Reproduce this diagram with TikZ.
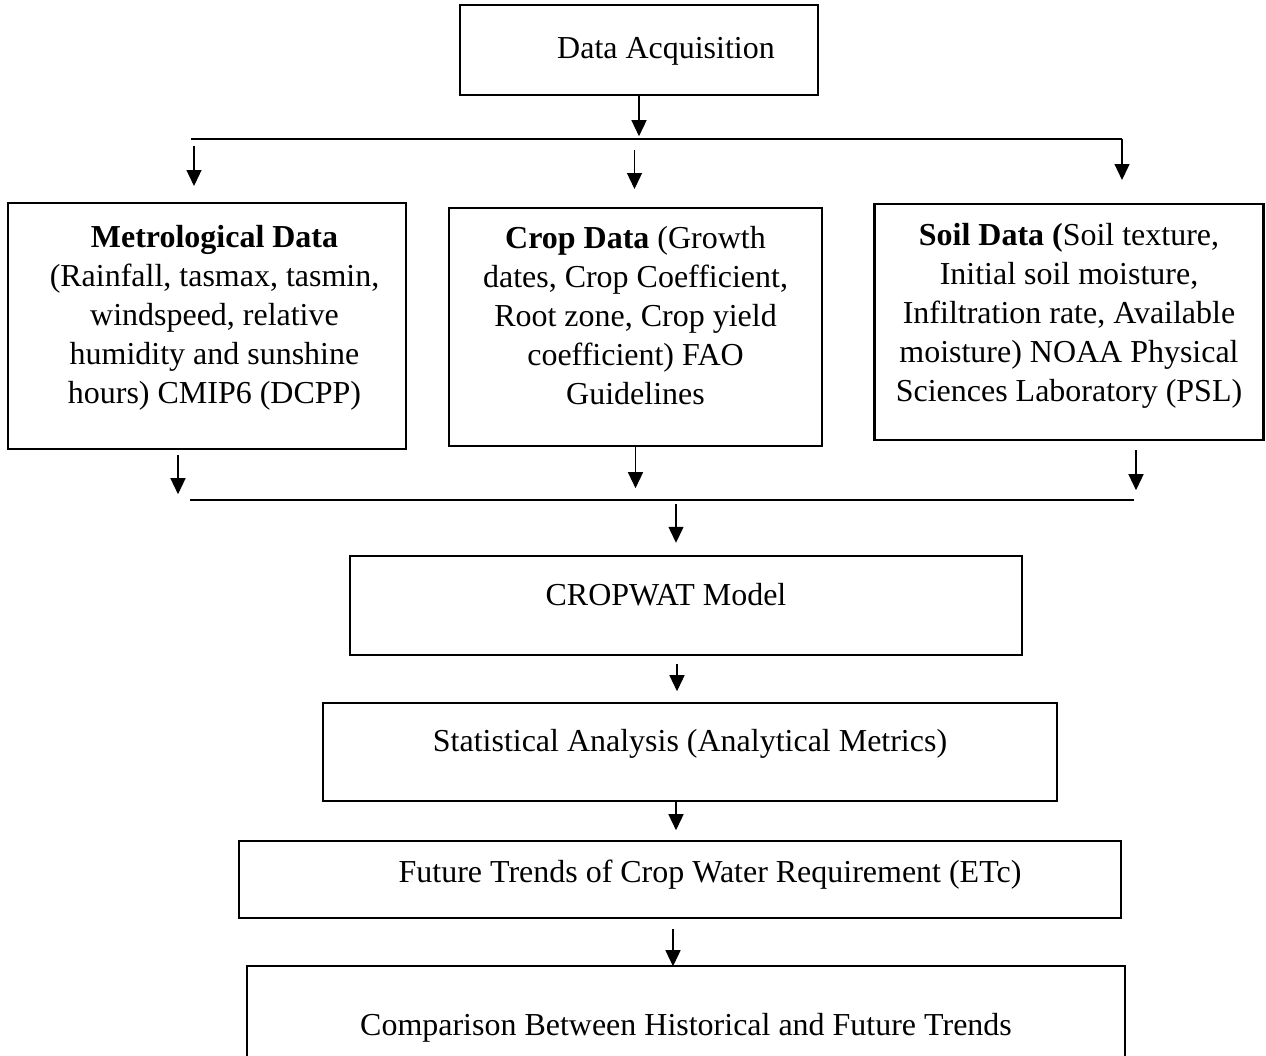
\documentclass[tikz,border=0pt]{standalone}
\usepackage{fontspec}
\setmainfont{Liberation Serif}
\usepackage{tikz}
\usetikzlibrary{arrows.meta, calc}
\tikzset{
  flowbox/.style={
    draw, rectangle, inner sep=0pt, line width=1.4pt,
    align=flush center, text height=0.46cm, text depth=0.48cm
  },
  databox/.style={
    flowbox, text depth=3.62cm
  },
  busline/.style={
    line width=0.75pt
  },
  arrow/.style={
    -{Triangle[length=0.32cm, width=0.3cm]}, line width=0.75pt
  },
}

\begin{document}
\begin{tikzpicture}[x=0.02cm, y=-0.02cm, font=\fontsize{18.2}{22.2}\selectfont]
  \useasboundingbox (0,0) rectangle (1266,1055);

  %%% Top box %%%
  \node[flowbox, minimum width=7.16cm, minimum height=1.8cm, text depth=0.14cm]
    (acq) at (639,50) {\hspace*{1.08cm}Data Acquisition};

  %%% Upper bus %%%
  \coordinate (busAw) at (191,139);
  \coordinate (busAe) at (1122,139);
  \draw[arrow] (acq.south) -- ++(0,40);
  \draw[busline] (busAw) -- (busAe);

  %%% Data boxes %%%
  \node[databox, text width=7.96cm, minimum width=7.96cm, minimum height=4.92cm]
    (met) at (207,326) {%
    \hspace*{0.3cm}\textbf{Metrological Data}\\
    \hspace*{0.3cm}(Rainfall, tasmax, tasmin,\\
    \hspace*{0.3cm}windspeed, relative\\
    \hspace*{0.3cm}humidity and sunshine\\
    \hspace*{0.3cm}hours) CMIP6 (DCPP)};

  \node[databox, text width=7.46cm, minimum width=7.46cm, minimum height=4.76cm]
    (crop) at (635.5,327) {%
    \textbf{Crop Data} (Growth\\
    dates, Crop Coefficient,\\
    Root zone, Crop yield\\
    coefficient) FAO\\
    Guidelines};

  \node[databox, text width=7.78cm, minimum width=7.78cm, minimum height=4.72cm,
        text depth=3.54cm]
    (soil) at (1069,322) {%
    \textbf{Soil Data (}Soil texture,\\
    Initial soil moisture,\\
    Infiltration rate, Available\\
    moisture) NOAA Physical\\
    Sciences Laboratory (PSL)};

  %%% Arrows: bus -> data boxes %%%
  \draw[arrow] ($(busAw)+(3,7)$) -- ++(0,40);
  \draw[arrow] ($(crop.north |- busAw)+(-1,11)$) -- ++(0,39);
  \draw[arrow] (busAe) -- ++(0,41);

  %%% Arrows: data boxes -> lower bus %%%
  \coordinate (busBw) at (190,500);
  \coordinate (busBe) at (1134,500);
  \draw[arrow] ($(met.south)+(-29,5)$) -- ++(0,39);
  \draw[arrow] (crop.south) -- ++(0,41);
  \draw[arrow] ($(soil.south)+(67,9)$) -- ++(0,40);
  \draw[busline] (busBw) -- (busBe);

  %%% Processing chain %%%
  \node[flowbox, minimum width=13.44cm, minimum height=1.98cm]
    (cropwat) at (686,605.5) {CROPWAT Model\hspace*{0.8cm}};

  \node[flowbox, minimum width=14.68cm, minimum height=1.96cm]
    (stat) at (690,752) {Statistical Analysis (Analytical Metrics)};

  \node[flowbox, minimum width=17.64cm, minimum height=1.54cm, text depth=0.36cm]
    (future) at (680,879.5)
    {\hspace*{1.2cm}Future Trends of Crop Water Requirement (ETc)};

  \node[flowbox, minimum width=17.56cm, minimum height=2.78cm]
    (comp) at (686,1035.5) {Comparison Between Historical and Future Trends};

  %%% Arrows along the chain %%%
  \draw[arrow] ($(cropwat.north)+(-10,-51)$) -- ++(0,39);
  \draw[arrow] ($(cropwat.south)+(-9,8)$) -- ++(0,27);
  \draw[arrow] ($(stat.south)+(-14,0)$) -- ++(0,28);
  \draw[arrow] ($(future.south)+(-7,10)$) -- ++(0,37);

\end{tikzpicture}
\end{document}
